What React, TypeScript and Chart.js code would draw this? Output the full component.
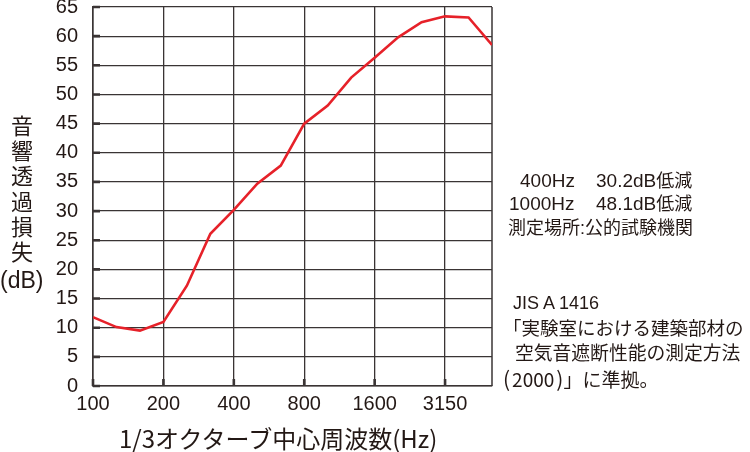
import React, { useEffect, useRef } from "react";
import { Chart, registerables } from "chart.js";

Chart.register(...registerables);

const frequencies = ["100", "125", "160", "200", "250", "315", "400", "500", "630", "800", "1000", "1250", "1600", "2000", "2500", "3150", "4000", "5000"];
const lossValues = [11.8, 10.1, 9.5, 11.0, 17.2, 26.1, 30.2, 34.7, 37.8, 45.0, 48.1, 52.9, 56.3, 59.8, 62.4, 63.4, 63.2, 58.5];
const labeledTickIndices = [0, 3, 6, 9, 12, 15];
const yMin = 0;
const yMax = 65;
const yStep = 5;

const yTitleChars = ["音", "響", "透", "過", "損", "失"];
const xTitle = "1/3オクターブ中心周波数(Hz)";
const noteFreqs = ["400Hz", "1000Hz"];
const noteValues = ["30.2dB", "48.1dB"];
const noteSuffix = "低減";
const noteLine3 = "測定場所:公的試験機関";
const jisLines = ["JIS A 1416", "「実験室における建築部材の", "空気音遮断性能の測定方法"];
const jisYear = "(2000)";
const jisTail = "」に準拠。";

const INK = "#231815";
const GRID = "#3a3434";
const FONT = '"Liberation Sans", "Noto Sans CJK JP", sans-serif';
const CJK = '"Noto Sans CJK JP", sans-serif';

const framePlugin = {
  id: "frameAndTicks",
  beforeDatasetsDraw(chart: any) {
    const { ctx, chartArea } = chart;
    const xs = chart.scales.x;
    const ys = chart.scales.y;
    ctx.save();
    ctx.strokeStyle = GRID;
    ctx.lineWidth = 1.5;
    ctx.beginPath();
    ctx.moveTo(chartArea.right, chartArea.top);
    ctx.lineTo(chartArea.right, chartArea.bottom);
    ctx.stroke();
    ctx.lineWidth = 2.6;
    ctx.beginPath();
    for (const t of ys.ticks) {
      const y = ys.getPixelForValue(t.value);
      ctx.moveTo(chartArea.left, y);
      ctx.lineTo(chartArea.left + 7, y);
    }
    for (const t of xs.ticks) {
      const x = xs.getPixelForValue(t.value);
      ctx.moveTo(x, chartArea.bottom);
      ctx.lineTo(x, chartArea.bottom - 7);
    }
    ctx.stroke();
    ctx.restore();
  },
};

export default function App() {
  const ref = useRef<HTMLCanvasElement | null>(null);

  useEffect(() => {
    if (!ref.current) return;
    const chart = new Chart(ref.current, {
      type: "line",
      data: {
        datasets: [
          {
            data: lossValues.map((v, i) => ({ x: i, y: v })),
            borderColor: "#e62129",
            borderWidth: 2.6,
            pointRadius: 0,
            tension: 0,
            fill: false,
          },
        ],
      },
      options: {
        animation: false,
        responsive: false,
        devicePixelRatio: 1,
        layout: { padding: { top: 7, right: 258, left: 0, bottom: 0 } },
        plugins: { legend: { display: false }, tooltip: { enabled: false } },
        scales: {
          x: {
            type: "linear",
            min: 0,
            max: frequencies.length - 1,
            afterBuildTicks: (scale: any) => {
              scale.ticks = labeledTickIndices.map((v) => ({ value: v }));
            },
            afterFit: (scale: any) => {
              scale.height = 66;
              scale.paddingLeft = 0;
              scale.paddingRight = 0;
            },
            ticks: {
              autoSkip: false,
              maxRotation: 0,
              padding: 6,
              color: INK,
              font: { family: FONT, size: 20 },
              callback: (v: any) => frequencies[v as number],
            },
            grid: { color: GRID, lineWidth: 1.3, drawTicks: false },
            border: { color: GRID, width: 1.6 },
          },
          y: {
            min: yMin,
            max: yMax,
            afterFit: (scale: any) => {
              scale.width = 93;
              scale.paddingTop = 0;
              scale.paddingBottom = 0;
            },
            ticks: {
              stepSize: yStep,
              padding: 15,
              color: INK,
              font: { family: FONT, size: 20 },
            },
            grid: { color: GRID, lineWidth: 1.3, drawTicks: false },
            border: { color: GRID, width: 1.6 },
          },
        },
      },
      plugins: [framePlugin],
    });
    return () => chart.destroy();
  }, []);

  const textBase: React.CSSProperties = {
    position: "absolute",
    fontFamily: FONT,
    color: INK,
    whiteSpace: "nowrap",
    lineHeight: 1,
  };

  return (
    <div style={{ position: "absolute", left: 0, top: 0, width: 750, height: 452, background: "#fff", overflow: "hidden" }}>
      <canvas ref={ref} width={750} height={452} style={{ display: "block", width: 750, height: 452 }} />
      <div style={{ ...textBase, left: 0, top: 114, width: 44, textAlign: "center", fontSize: 22, lineHeight: "25.2px" }}>
        {yTitleChars.map((c) => (
          <div key={c}>{c}</div>
        ))}
      </div>
      <div style={{ ...textBase, left: 0, top: 269, fontSize: 23 }}>(dB)</div>
      <div style={{ ...textBase, left: 119, top: 425, fontSize: 24, fontFamily: CJK, lineHeight: "26px" }}>{xTitle}</div>
      <div style={{ ...textBase, left: 520, top: 171, fontSize: 19 }}>{noteFreqs[0]}</div>
      <div style={{ ...textBase, left: 596, top: 171, fontSize: 18 }}>
        <span style={{ fontSize: 19 }}>{noteValues[0]}</span>
        {noteSuffix}
      </div>
      <div style={{ ...textBase, left: 509, top: 194, fontSize: 19 }}>{noteFreqs[1]}</div>
      <div style={{ ...textBase, left: 596, top: 194, fontSize: 18 }}>
        <span style={{ fontSize: 19 }}>{noteValues[1]}</span>
        {noteSuffix}
      </div>
      <div style={{ ...textBase, left: 508, top: 219, fontSize: 18 }}>{noteLine3}</div>
      <div style={{ ...textBase, left: 513, top: 294, fontSize: 18 }}>{jisLines[0]}</div>
      <div style={{ ...textBase, left: 503, top: 320, fontSize: 18.5 }}>{jisLines[1]}</div>
      <div style={{ ...textBase, left: 515, top: 345, fontSize: 18.8 }}>{jisLines[2]}</div>
      <div style={{ ...textBase, left: 503, top: 368, fontSize: 19, fontFamily: CJK }}>
        <span style={{ paddingRight: 2, fontSize: 21 }}>{jisYear.slice(0, 1)}</span>
        {jisYear.slice(1, -1)}
        <span style={{ paddingLeft: 2, fontSize: 21 }}>{jisYear.slice(-1)}</span>
        {jisTail}
      </div>
    </div>
  );
}
